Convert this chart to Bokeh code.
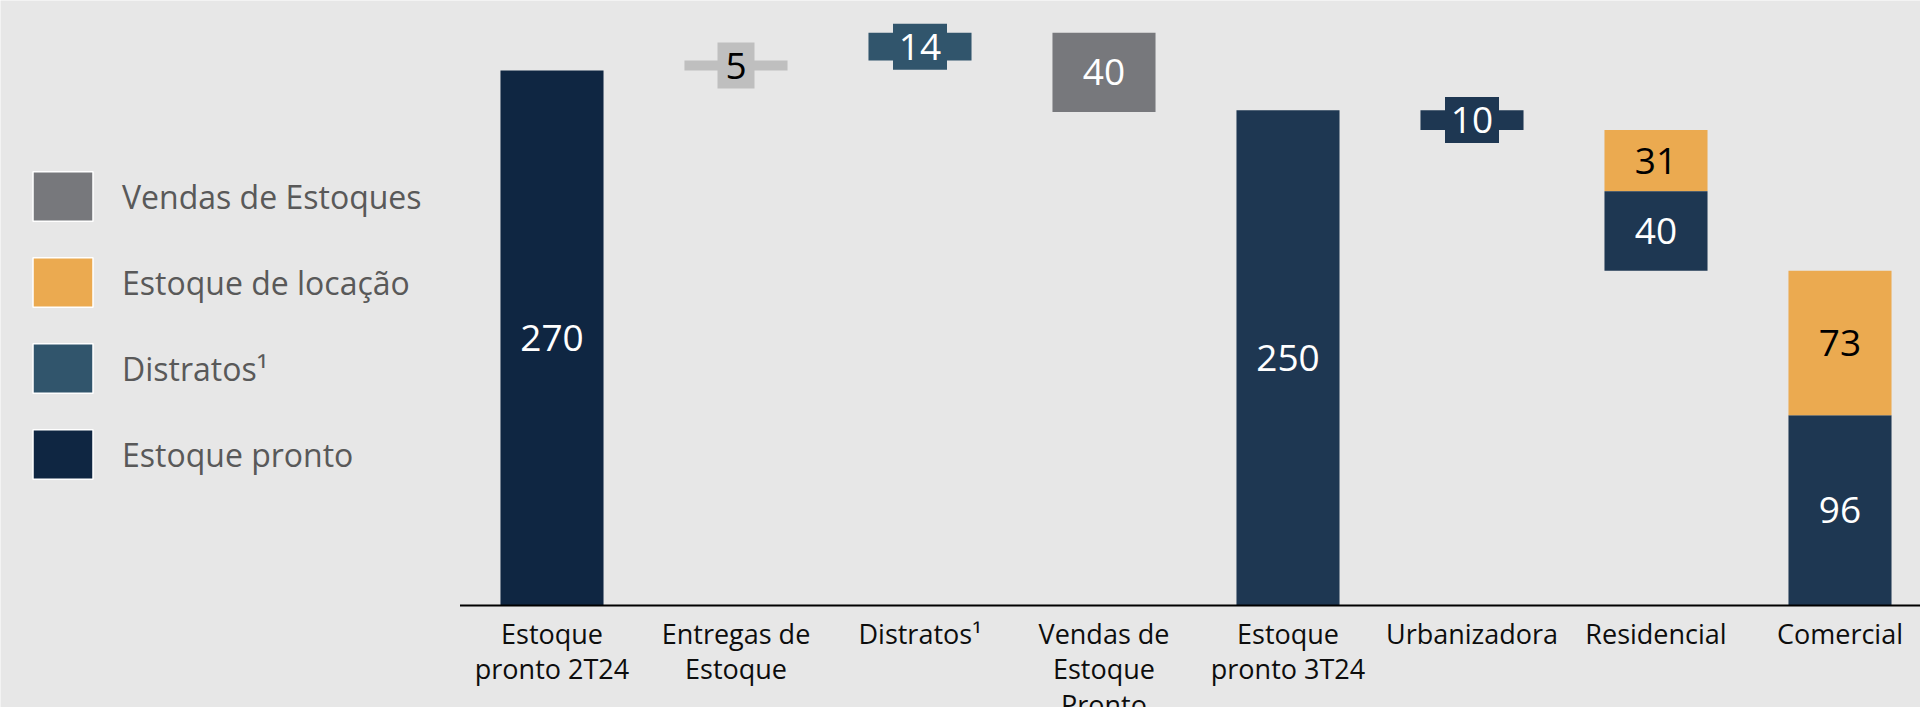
from bokeh.plotting import figure
from bokeh.models import Range1d, Legend, LegendItem, ColumnDataSource
from bokeh.core.properties import value
from bokeh.embed import file_html
from bokeh.resources import INLINE

# ---------------- data ----------------
categories = [
    "Estoque\npronto 2T24",
    "Entregas de\nEstoque",
    "Distratos¹",
    "Vendas de\nEstoque\nPronto",
    "Estoque\npronto 3T24",
    "Urbanizadora",
    "Residencial",
    "Comercial",
]
estoque_inicial = 270          # Estoque pronto 2T24
entregas = 5                   # Entregas de Estoque
distratos = 14                 # Distratos¹
vendas = 40                    # Vendas de Estoque Pronto
estoque_final = 250            # Estoque pronto 3T24
urbanizadora = 10
residencial_pronto = 40
residencial_locacao = 31
comercial_pronto = 96
comercial_locacao = 73

legend_labels = ["Vendas de Estoques", "Estoque de locação", "Distratos¹", "Estoque pronto"]

# ---------------- styles ----------------
BG = "#E7E7E7"
C_PRONTO_DARK = "#0F2642"
C_PRONTO = "#1E3752"
C_ENTREGAS = "#BFBFBF"
C_DISTRATOS = "#31556C"
C_VENDAS = "#77787C"
C_LOCACAO = "#EBAA50"
FONT = "Open Sans"

# ---------------- waterfall segments ----------------
seg = dict(x=[], bottom=[], top=[], color=[], label=[], tcolor=[], boxed=[])


def add(i, b, t, color, val, tcolor="white", boxed=False):
    seg["x"].append(i)
    seg["bottom"].append(b)
    seg["top"].append(t)
    seg["color"].append(color)
    seg["label"].append(str(val))
    seg["tcolor"].append(tcolor)
    seg["boxed"].append(boxed)


level = estoque_inicial
add(0, 0, level, C_PRONTO_DARK, estoque_inicial)
add(1, level, level + entregas, C_ENTREGAS, entregas, "black", True)
level += entregas
add(2, level, level + distratos, C_DISTRATOS, distratos, "white", True)
level += distratos
add(3, level - vendas, level, C_VENDAS, vendas)
level = estoque_final
add(4, 0, level, C_PRONTO, estoque_final)
add(5, level - urbanizadora, level, C_PRONTO, urbanizadora, "white", True)
level -= urbanizadora
add(6, level - residencial_locacao, level, C_LOCACAO, residencial_locacao, "black")
level -= residencial_locacao
add(6, level - residencial_pronto, level, C_PRONTO, residencial_pronto)
level -= residencial_pronto
add(7, 0, comercial_pronto, C_PRONTO, comercial_pronto)
add(7, comercial_pronto, comercial_pronto + comercial_locacao, C_LOCACAO, comercial_locacao, "black")

seg["mid"] = [(b + t) / 2 for b, t in zip(seg["bottom"], seg["top"])]
src = ColumnDataSource(seg)

boxed_idx = [k for k, bx in enumerate(seg["boxed"]) if bx]
box_src = ColumnDataSource(dict(
    x=[seg["x"][k] for k in boxed_idx],
    y=[seg["mid"][k] for k in boxed_idx],
    w=[20 + 17 * len(seg["label"][k]) for k in boxed_idx],
    color=[seg["color"][k] for k in boxed_idx],
))

# ---------------- figure ----------------
W, H = 1920, 707
PX_PER_CAT = 184.0
CAT0_PX = 551.5
PX_PER_UNIT = 535 / 270.0
BASE_PX = 605
x_start = -CAT0_PX / PX_PER_CAT
x_end = (W - CAT0_PX) / PX_PER_CAT
y_end = BASE_PX / PX_PER_UNIT
y_start = -(H - BASE_PX) / PX_PER_UNIT

p = figure(width=W, height=H, output_backend="svg", toolbar_location=None,
           x_range=Range1d(x_start, x_end), y_range=Range1d(y_start, y_end),
           x_axis_location=None, y_axis_location=None, min_border=0)
p.background_fill_color = BG
p.border_fill_color = BG
p.outline_line_color = None
p.xgrid.visible = False
p.ygrid.visible = False

p.vbar(x="x", bottom="bottom", top="top", width=0.56, fill_color="color",
       line_color=None, source=src)

# baseline (category axis line)
p.segment(x0=[-0.5], y0=[0], x1=[x_end], y1=[0], line_color="black", line_width=2)

# label backgrounds for small steps
p.rect(x="x", y="y", width="w", height=46, width_units="screen", height_units="screen",
       fill_color="color", line_color=None, source=box_src)

p.text(x="x", y="mid", text="label", text_color="tcolor", source=src,
       text_font=value(FONT), text_font_size="37px", text_align="center",
       text_baseline="middle")

# category labels
p.text(x=list(range(len(categories))), y=[0] * len(categories), text=categories,
       y_offset=9, text_font=value(FONT), text_font_size="27px", text_align="center",
       text_baseline="top", text_line_height=0.97, text_color="#0D0D0D")

# legend (proxy glyphs, not drawn in the plot area)
nan = float("nan")
legend_colors = [C_VENDAS, C_LOCACAO, C_DISTRATOS, C_PRONTO_DARK]
items = []
for lab, col in zip(legend_labels, legend_colors):
    r = p.rect(x=[nan], y=[nan], width=1, height=1, fill_color=col,
               line_color="white", line_width=1.5)
    items.append(LegendItem(label=lab, renderers=[r]))

legend = Legend(items=items, location=(25, 222), glyph_width=75, glyph_height=62,
                spacing=24, label_standoff=22, padding=0, margin=0,
                border_line_color=None, background_fill_alpha=0,
                label_text_font=FONT, label_text_font_size="32px",
                label_text_color="#595959")
p.add_layout(legend)

open("out.html", "w").write(file_html(p, INLINE))
